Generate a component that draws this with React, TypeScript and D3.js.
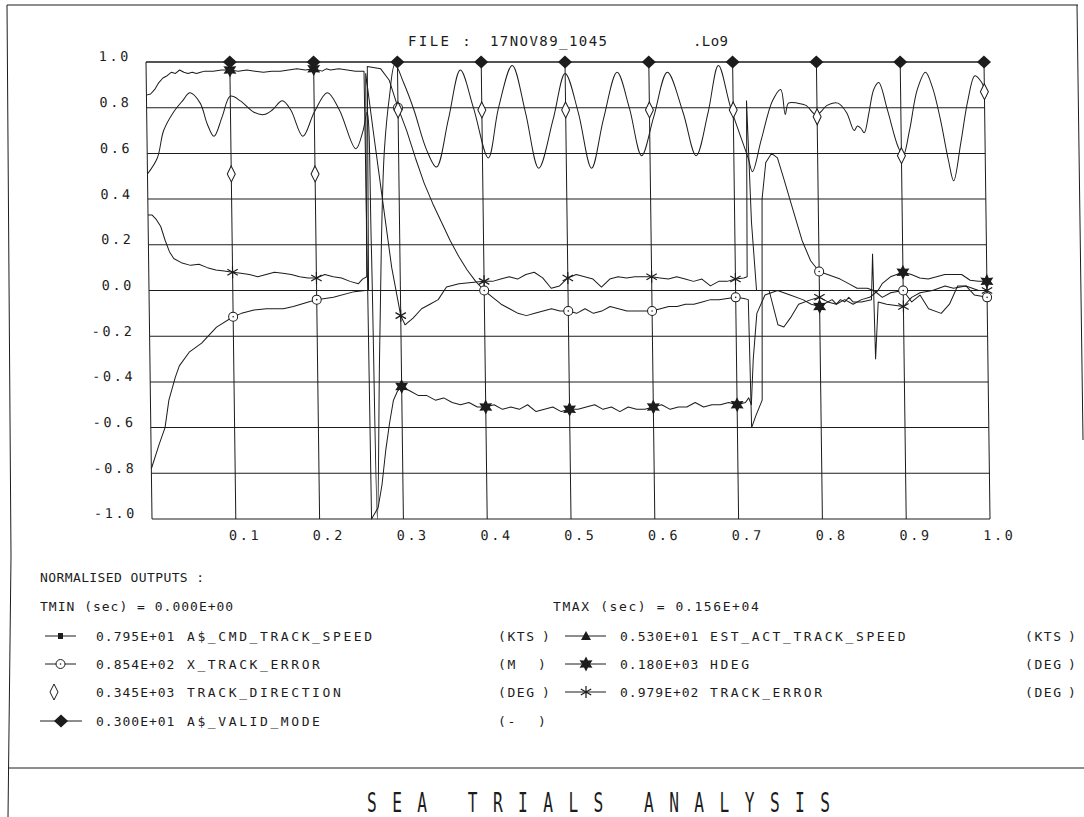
import React from "react";
import * as d3 from "d3";

type P = [number, number];

// ---------- data ----------
const xTickValues = [0.1, 0.2, 0.3, 0.4, 0.5, 0.6, 0.7, 0.8, 0.9, 1.0];
const xTickLabels = ["0.1", "0.2", "0.3", "0.4", "0.5", "0.6", "0.7", "0.8", "0.9", "1.0"];
const yTickValues = [1.0, 0.8, 0.6, 0.4, 0.2, 0.0, -0.2, -0.4, -0.6, -0.8, -1.0];
const yTickLabels = ["1.0", "0.8", "0.6", "0.4", "0.2", "0.0", "-0.2", "-0.4", "-0.6", "-0.8", "-1.0"];
const markerPositions = [0.1, 0.2, 0.3, 0.4, 0.5, 0.6, 0.7, 0.8, 0.9, 1.0];

const validModeLine: P[] = [[0, 1], [1, 1]];
const validModeMarks = [1, 1, 1, 1, 1, 1, 1, 1, 1, 1];

const trackDirectionMarks = [0.51, 0.51, 0.79, 0.79, 0.79, 0.79, 0.79, 0.76, 0.59, 0.87];

const hdegLine: P[] = [
  [0, 0.855], [0.005, 0.86], [0.01, 0.88], [0.015, 0.91], [0.02, 0.93], [0.025, 0.94], [0.03, 0.955],
  [0.035, 0.95], [0.04, 0.965], [0.045, 0.955], [0.05, 0.95], [0.055, 0.955], [0.06, 0.95], [0.065, 0.955],
  [0.07, 0.96], [0.08, 0.96], [0.09, 0.965], [0.1, 0.965], [0.11, 0.96], [0.12, 0.965], [0.13, 0.96],
  [0.14, 0.955], [0.15, 0.96], [0.16, 0.96], [0.17, 0.965], [0.18, 0.97], [0.19, 0.965], [0.2, 0.97],
  [0.21, 0.96], [0.215, 0.97], [0.22, 0.965], [0.23, 0.97], [0.24, 0.965], [0.25, 0.96], [0.26, 0.96],
  [0.262, -1.0], [0.27, -0.95], [0.275, -0.85], [0.28, -0.7], [0.285, -0.58], [0.29, -0.48], [0.295, -0.44],
  [0.3, -0.42], [0.31, -0.44], [0.32, -0.46], [0.33, -0.46], [0.34, -0.48], [0.35, -0.47], [0.36, -0.49],
  [0.37, -0.5], [0.38, -0.49], [0.39, -0.51], [0.4, -0.51], [0.41, -0.5], [0.42, -0.52], [0.43, -0.51],
  [0.44, -0.52], [0.45, -0.5], [0.46, -0.53], [0.47, -0.52], [0.48, -0.51], [0.49, -0.53], [0.5, -0.52],
  [0.51, -0.52], [0.52, -0.51], [0.53, -0.5], [0.54, -0.52], [0.55, -0.51], [0.56, -0.53], [0.57, -0.51],
  [0.58, -0.52], [0.59, -0.52], [0.6, -0.51], [0.61, -0.5], [0.62, -0.52], [0.63, -0.51], [0.64, -0.51],
  [0.65, -0.49], [0.66, -0.51], [0.67, -0.5], [0.68, -0.5], [0.69, -0.49], [0.7, -0.5], [0.71, -0.49],
  [0.714, -0.47], [0.717, -0.5], [0.72, -0.3], [0.725, -0.1], [0.735, -0.02], [0.75, 0.0], [0.765, -0.02],
  [0.78, -0.04], [0.79, -0.06], [0.8, -0.07], [0.81, -0.05], [0.82, -0.06], [0.83, -0.04], [0.84, -0.06],
  [0.85, -0.04], [0.86, -0.03], [0.87, 0.0], [0.875, 0.03], [0.885, 0.06], [0.9, 0.08], [0.91, 0.07],
  [0.92, 0.055], [0.93, 0.05], [0.94, 0.06], [0.95, 0.07], [0.96, 0.07], [0.97, 0.07], [0.98, 0.045],
  [0.99, 0.04], [1.0, 0.04],
];
const hdegMarks = [0.965, 0.97, -0.42, -0.51, -0.52, -0.51, -0.5, -0.07, 0.08, 0.04];

const xTrackErrorLine: P[] = [
  [0, -0.78], [0.01, -0.67], [0.017, -0.6], [0.022, -0.48], [0.03, -0.38], [0.035, -0.33], [0.047, -0.27],
  [0.062, -0.23], [0.08, -0.16], [0.1, -0.115], [0.11, -0.1], [0.125, -0.085], [0.14, -0.08], [0.16, -0.08],
  [0.172, -0.07], [0.19, -0.05], [0.2, -0.04], [0.22, -0.03], [0.245, -0.005], [0.258, 0.0], [0.262, 0.0],
  [0.264, 0.98], [0.28, 0.97], [0.29, 0.92], [0.3, 0.8], [0.31, 0.7], [0.32, 0.58], [0.33, 0.47],
  [0.34, 0.38], [0.35, 0.3], [0.36, 0.22], [0.37, 0.15], [0.38, 0.09], [0.39, 0.04], [0.4, 0.0],
  [0.41, -0.03], [0.42, -0.06], [0.43, -0.08], [0.44, -0.1], [0.45, -0.11], [0.46, -0.1], [0.47, -0.09],
  [0.48, -0.08], [0.49, -0.09], [0.5, -0.09], [0.51, -0.1], [0.52, -0.08], [0.53, -0.1], [0.54, -0.09],
  [0.55, -0.07], [0.56, -0.08], [0.57, -0.09], [0.58, -0.09], [0.6, -0.09], [0.61, -0.08], [0.62, -0.07],
  [0.63, -0.07], [0.64, -0.06], [0.65, -0.06], [0.66, -0.05], [0.67, -0.04], [0.68, -0.04], [0.7, -0.03],
  [0.71, -0.035], [0.715, -0.04], [0.717, -0.6], [0.722, -0.55], [0.73, -0.48], [0.733, 0.4], [0.738, 0.56],
  [0.745, 0.6], [0.752, 0.58], [0.76, 0.48], [0.77, 0.35], [0.78, 0.22], [0.79, 0.13], [0.8, 0.083],
  [0.81, 0.07], [0.825, 0.05], [0.835, 0.03], [0.845, 0.01], [0.857, 0.01], [0.865, 0.0], [0.875, -0.03],
  [0.885, -0.01], [0.9, 0.0], [0.91, -0.05], [0.92, -0.02], [0.93, -0.08], [0.945, -0.1], [0.955, -0.06],
  [0.965, 0.02], [0.975, 0.02], [0.985, -0.02], [1.0, -0.03],
];
const xTrackErrorMarks = [-0.115, -0.04, 0.8, 0.0, -0.09, -0.09, -0.03, 0.083, 0.0, -0.03];

const trackErrorLine: P[] = [
  [0, 0.33], [0.005, 0.33], [0.01, 0.31], [0.015, 0.28], [0.02, 0.22], [0.025, 0.17], [0.03, 0.14],
  [0.04, 0.12], [0.05, 0.11], [0.06, 0.115], [0.07, 0.1], [0.08, 0.09], [0.09, 0.085], [0.1, 0.08],
  [0.11, 0.075], [0.12, 0.07], [0.13, 0.06], [0.14, 0.07], [0.15, 0.08], [0.16, 0.075], [0.17, 0.07],
  [0.18, 0.06], [0.19, 0.055], [0.2, 0.055], [0.21, 0.07], [0.22, 0.06], [0.23, 0.055], [0.24, 0.04],
  [0.25, 0.03], [0.255, 0.05], [0.26, 0.06], [0.262, 0.95], [0.27, 0.7], [0.28, 0.4], [0.29, 0.1],
  [0.3, -0.11], [0.305, -0.15], [0.315, -0.12], [0.325, -0.08], [0.335, -0.06], [0.345, -0.04],
  [0.355, 0.015], [0.37, 0.03], [0.385, 0.035], [0.4, 0.04], [0.41, 0.04], [0.42, 0.05], [0.43, 0.06],
  [0.44, 0.05], [0.45, 0.07], [0.46, 0.08], [0.47, 0.055], [0.48, 0.01], [0.49, 0.02], [0.5, 0.055],
  [0.51, 0.07], [0.52, 0.06], [0.53, 0.05], [0.54, 0.015], [0.55, 0.05], [0.56, 0.06], [0.57, 0.055],
  [0.58, 0.06], [0.59, 0.06], [0.6, 0.06], [0.61, 0.055], [0.62, 0.05], [0.63, 0.06], [0.64, 0.05],
  [0.65, 0.04], [0.66, 0.05], [0.67, 0.02], [0.68, 0.04], [0.69, 0.04], [0.7, 0.05], [0.71, 0.055],
  [0.714, 0.06], [0.716, 0.83], [0.72, 0.3], [0.725, 0.0], [0.74, 0.0], [0.75, -0.15], [0.757, -0.16],
  [0.765, -0.12], [0.775, -0.06], [0.79, -0.04], [0.8, -0.03], [0.81, -0.05], [0.815, -0.04], [0.82, -0.06],
  [0.825, -0.04], [0.83, -0.05], [0.835, -0.03], [0.84, -0.05], [0.85, -0.05], [0.862, -0.04],
  [0.864, 0.16], [0.866, -0.3], [0.87, -0.05], [0.88, -0.06], [0.9, -0.07], [0.91, -0.03], [0.92, -0.01],
  [0.935, 0.0], [0.95, 0.02], [0.96, 0.01], [0.975, 0.02], [0.99, 0.0], [1.0, 0.0],
];
const trackErrorMarks = [0.08, 0.055, -0.11, 0.04, 0.055, 0.06, 0.05, -0.03, -0.07, 0.0];

const estSpeedLine: P[] = [
  [0, 0.51], [0.012, 0.58], [0.02, 0.7], [0.032, 0.78], [0.043, 0.83], [0.052, 0.865], [0.064, 0.82],
  [0.072, 0.73], [0.08, 0.675], [0.09, 0.76], [0.1, 0.85], [0.112, 0.83], [0.128, 0.78], [0.14, 0.77],
  [0.15, 0.79], [0.162, 0.83], [0.172, 0.79], [0.186, 0.675], [0.2, 0.78], [0.216, 0.865], [0.23, 0.79],
  [0.249, 0.62], [0.258, 0.7], [0.263, 0.78], [0.266, 0.2], [0.269, -1.0], [0.274, -0.3], [0.278, 0.2],
  [0.283, 0.61], [0.29, 0.85], [0.297, 0.99], [0.307, 0.91], [0.319, 0.79], [0.333, 0.62], [0.345, 0.54],
  [0.36, 0.75], [0.375, 0.965], [0.39, 0.8], [0.407, 0.58], [0.42, 0.8], [0.437, 0.985], [0.452, 0.78],
  [0.467, 0.535], [0.485, 0.75], [0.5, 0.95], [0.515, 0.78], [0.53, 0.535], [0.545, 0.75], [0.562, 0.955],
  [0.576, 0.8], [0.59, 0.59], [0.605, 0.76], [0.622, 0.955], [0.64, 0.78], [0.655, 0.59], [0.67, 0.78],
  [0.683, 0.985], [0.697, 0.8], [0.717, 0.58], [0.722, 0.52], [0.733, 0.66], [0.747, 0.83], [0.757, 0.88],
  [0.762, 0.77], [0.766, 0.82], [0.777, 0.82], [0.787, 0.81], [0.798, 0.77], [0.804, 0.78], [0.812, 0.81],
  [0.825, 0.82], [0.835, 0.78], [0.844, 0.7], [0.848, 0.72], [0.852, 0.71], [0.856, 0.69], [0.862, 0.78],
  [0.868, 0.88], [0.874, 0.91], [0.884, 0.79], [0.896, 0.63], [0.902, 0.59], [0.91, 0.7], [0.92, 0.88],
  [0.93, 0.955], [0.938, 0.89], [0.947, 0.75], [0.956, 0.57], [0.962, 0.48], [0.971, 0.645], [0.98, 0.83],
  [0.989, 0.94], [0.997, 0.91], [1.0, 0.88],
];

const legendLeft = [
  { value: "0.795E+01", name: "A$_CMD_TRACK_SPEED", unit: "(KTS", symbol: "square" },
  { value: "0.854E+02", name: "X_TRACK_ERROR", unit: "(M", symbol: "circle" },
  { value: "0.345E+03", name: "TRACK_DIRECTION", unit: "(DEG", symbol: "openDiamond" },
  { value: "0.300E+01", name: "A$_VALID_MODE", unit: "(-", symbol: "filledDiamond" },
];
const legendRight = [
  { value: "0.530E+01", name: "EST_ACT_TRACK_SPEED", unit: "(KTS", symbol: "triangle" },
  { value: "0.180E+03", name: "HDEG", unit: "(DEG", symbol: "star" },
  { value: "0.979E+02", name: "TRACK_ERROR", unit: "(DEG", symbol: "asterisk" },
];

// ---------- drawing ----------
const INK = "#1c1c1c";
const FONT = "'DejaVu Sans Mono', monospace";

function Marker({ kind, cx, cy }: { kind: string; cx: number; cy: number }) {
  if (kind === "filledDiamond") {
    return <polygon points={`${cx},${cy - 6.5} ${cx + 7},${cy} ${cx},${cy + 6.5} ${cx - 7},${cy}`} fill={INK} />;
  }
  if (kind === "openDiamond") {
    return (
      <polygon points={`${cx},${cy - 8} ${cx + 4},${cy} ${cx},${cy + 8} ${cx - 4},${cy}`} fill="#fff" stroke={INK} strokeWidth={1} />
    );
  }
  if (kind === "circle") {
    return (
      <g>
        <circle cx={cx} cy={cy} r={4.5} fill="#fff" stroke={INK} strokeWidth={1} />
        <circle cx={cx} cy={cy} r={0.8} fill={INK} />
      </g>
    );
  }
  if (kind === "star") {
    const pts: string[] = [];
    for (let i = 0; i < 12; i++) {
      const r = i % 2 === 0 ? 7.5 : 4;
      const a = (Math.PI / 6) * i - Math.PI / 2;
      pts.push(`${cx + r * Math.cos(a)},${cy + r * Math.sin(a)}`);
    }
    return <polygon points={pts.join(" ")} fill={INK} />;
  }
  if (kind === "asterisk") {
    const r = 6;
    const segs = [90, 30, 150].map((deg) => {
      const a = (deg * Math.PI) / 180;
      return `M${cx - r * Math.cos(a)},${cy - r * Math.sin(a)}L${cx + r * Math.cos(a)},${cy + r * Math.sin(a)}`;
    });
    return <path d={segs.join("")} stroke={INK} strokeWidth={1.2} fill="none" />;
  }
  if (kind === "square") {
    return <rect x={cx - 2.5} y={cy - 3} width={5} height={6} fill={INK} />;
  }
  if (kind === "triangle") {
    return <polygon points={`${cx},${cy - 5} ${cx + 5},${cy + 4} ${cx - 5},${cy + 4}`} fill={INK} />;
  }
  return null;
}

export default function App() {
  const W = 1084;
  const H = 817;
  const top = 62;
  const bottom = 519;
  const left = 146;
  const right = 984;
  const skewDeg = (Math.atan(6 / (bottom - top)) * 180) / Math.PI;

  const x = d3.scaleLinear().domain([0, 1]).range([left, right]);
  const y = d3.scaleLinear().domain([-1, 1]).range([bottom, top]);

  const straight = d3.line<P>().x((d) => x(d[0])).y((d) => y(d[1]));
  const smooth = d3
    .line<P>()
    .x((d) => x(d[0]))
    .y((d) => y(d[1]))
    .curve(d3.curveCatmullRom.alpha(0.5));

  const textBase = { fontFamily: FONT, fill: INK } as const;

  const legendRowsY = [636, 664, 692, 721];
  const titleSx = 0.6;

  return (
    <svg
      width={W}
      height={H}
      viewBox={`0 0 ${W} ${H}`}
      style={{ position: "absolute", left: 0, top: 0, background: "#fff" }}
    >
      <rect x={0} y={0} width={W} height={H} fill="#fff" />

      {/* outer frame */}
      <g stroke={INK} strokeWidth={1} fill="none">
        <line x1={7} y1={5} x2={1078} y2={5} />
        <polyline points="7,5 11,556 8,817" />
        <line x1={1077} y1={5} x2={1083} y2={440} />
        <line x1={8} y1={768} x2={1084} y2={768} />
      </g>

      {/* file header */}
      <text x={408} y={46} fontSize={14} letterSpacing={2.4} {...textBase}>FILE :</text>
      <text x={490} y={46} fontSize={14} textLength={117} lengthAdjust="spacing" {...textBase}>17NOV89_1045</text>
      <text x={693} y={46} fontSize={14} textLength={35} lengthAdjust="spacing" {...textBase}>.Lo9</text>

      {/* plot (slightly skewed as in the scan) */}
      <g transform={`translate(0,${top}) skewX(${skewDeg}) translate(0,${-top})`}>
        {/* grid */}
        <g stroke={INK} strokeWidth={1}>
          {yTickValues.map((v) => (
            <line key={"h" + v} x1={x(0)} x2={x(1)} y1={y(v)} y2={y(v)} />
          ))}
          <line x1={x(0)} x2={x(0)} y1={y(1)} y2={y(-1)} />
          {xTickValues.map((v) => (
            <line key={"v" + v} x1={x(v)} x2={x(v)} y1={y(1)} y2={y(-1)} />
          ))}
        </g>

        {/* y tick labels */}
        {yTickValues.map((v, i) => (
          <text key={"yl" + v} x={131} y={y(v) - 0.5} fontSize={13.5} letterSpacing={2.6} textAnchor="end" {...textBase}>
            {yTickLabels[i]}
          </text>
        ))}
        {/* x tick labels */}
        {xTickValues.map((v, i) => (
          <text key={"xl" + v} x={x(v) - 7} y={540} fontSize={13.5} letterSpacing={2.6} {...textBase}>
            {xTickLabels[i]}
          </text>
        ))}

        {/* series lines */}
        <g fill="none" stroke={INK} strokeWidth={1} strokeLinejoin="round">
          <path d={straight(validModeLine) || ""} />
          <path d={smooth(estSpeedLine) || ""} />
          <path d={straight(trackErrorLine) || ""} />
          <path d={straight(xTrackErrorLine) || ""} />
          <path d={straight(hdegLine) || ""} />
        </g>

        {/* markers */}
        {markerPositions.map((mx, i) => (
          <g key={"m" + i}>
            <Marker kind="asterisk" cx={x(mx)} cy={y(trackErrorMarks[i])} />
            <Marker kind="circle" cx={x(mx)} cy={y(xTrackErrorMarks[i])} />
            <Marker kind="openDiamond" cx={x(mx)} cy={y(trackDirectionMarks[i])} />
            <Marker kind="star" cx={x(mx)} cy={y(hdegMarks[i])} />
            <Marker kind="filledDiamond" cx={x(mx)} cy={y(validModeMarks[i])} />
          </g>
        ))}
      </g>

      {/* legend */}
      <text x={40} y={582} fontSize={13} letterSpacing={0.4} {...textBase}>NORMALISED OUTPUTS :</text>
      <text x={40} y={611} fontSize={13} letterSpacing={1.0} {...textBase}>TMIN (sec) = 0.000E+00</text>
      <text x={553} y={611} fontSize={13} letterSpacing={1.6} {...textBase}>TMAX (sec) = 0.156E+04</text>

      {legendLeft.map((r, i) => {
        const cy = legendRowsY[i];
        const hasLine = r.symbol !== "openDiamond";
        const lx1 = r.symbol === "filledDiamond" ? 40 : 45;
        const lx2 = r.symbol === "filledDiamond" ? 82 : 76;
        const mx = r.symbol === "openDiamond" ? 54 : (lx1 + lx2) / 2;
        const closeX = r.unit.length > 3 ? 542 : 538;
        return (
          <g key={"ll" + i}>
            {hasLine && <line x1={lx1} x2={lx2} y1={cy} y2={cy} stroke={INK} strokeWidth={1} />}
            <Marker kind={r.symbol} cx={mx} cy={cy} />
            <text x={96} y={cy + 5} fontSize={13} letterSpacing={1.0} {...textBase}>{r.value}</text>
            <text x={187} y={cy + 5} fontSize={13} letterSpacing={2.6} {...textBase}>{r.name}</text>
            <text x={498} y={cy + 5} fontSize={13} letterSpacing={1.6} {...textBase}>{r.unit}</text>
            <text x={closeX} y={cy + 5} fontSize={13} {...textBase}>)</text>
          </g>
        );
      })}
      {legendRight.map((r, i) => {
        const cy = legendRowsY[i];
        return (
          <g key={"lr" + i}>
            <line x1={565} x2={606} y1={cy} y2={cy} stroke={INK} strokeWidth={1} />
            <Marker kind={r.symbol} cx={586} cy={cy} />
            <text x={620} y={cy + 5} fontSize={13} letterSpacing={1.0} {...textBase}>{r.value}</text>
            <text x={710} y={cy + 5} fontSize={13} letterSpacing={2.6} {...textBase}>{r.name}</text>
            <text x={1025} y={cy + 5} fontSize={13} letterSpacing={1.6} {...textBase}>{r.unit}</text>
            <text x={1068} y={cy + 5} fontSize={13} {...textBase}>)</text>
          </g>
        );
      })}

      {/* footer title */}
      <text
        transform={`translate(367,812) scale(${titleSx},1)`}
        x={0}
        y={0}
        fontSize={27}
        textLength={(830 - 367) / titleSx}
        lengthAdjust="spacing"
        {...textBase}
      >
        SEA TRIALS ANALYSIS
      </text>
    </svg>
  );
}
